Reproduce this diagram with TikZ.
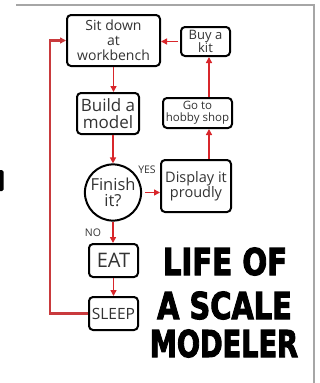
\documentclass[tikz,border=0pt]{standalone}
\usepackage{fontspec}
\setmainfont{Open Sans}
\newfontfamily\titlefont{DejaVu Sans}[BoldFeatures={FakeBold=3}]
\usetikzlibrary{arrows.meta}

\definecolor{flowred}{HTML}{D8262B}
\definecolor{looped}{HTML}{C93A3D}
\definecolor{inktext}{HTML}{333333}

\tikzset{
    stepbox/.style={draw=black, line width=2pt, rounded corners=4pt, fill=white,
        align=center, inner sep=1pt, text=inktext},
    flow/.style={draw=flowred, line width=1.8pt, -{Triangle[length=6pt,width=6pt]}},
    answer/.style={text=inktext, font=\fontsize{10.5}{11}\selectfont},
    title/.style={anchor=base, font=\titlefont\bfseries\fontsize{37}{37}\selectfont}
}

\begin{document}
\begin{tikzpicture}[x=1pt, y=-1pt]

    % Frame of the page
    \useasboundingbox (0,0) rectangle (320,383);
    \draw[gray!70, line width=1.5pt] (16,5) -- (314,5) -- (314,383);

    % Bit of a letter from the neighbouring page
    \fill[black, rounded corners=1.5pt] (-3,170) rectangle (3.5,191);

    % The steps of the chart
    \node[stepbox, minimum width=93pt, minimum height=51pt,
          font=\fontsize{14}{15}\selectfont] (sit) at (113.5,40.5) {Sit down\\at\\workbench};
    \node[stepbox, minimum width=49pt, minimum height=29pt,
          font=\fontsize{13}{13}\selectfont] (kit) at (205.5,41.5) {Buy a\\kit};
    \node[stepbox, minimum width=62pt, minimum height=41pt,
          font=\fontsize{17}{17.5}\selectfont] (build) at (108,113.5) {Build a\\model};
    \node[stepbox, minimum width=69pt, minimum height=30pt,
          font=\fontsize{11.5}{12}\selectfont] (hobby) at (197.5,113) {Go to\\hobby shop};
    \node[stepbox, circle, minimum size=56pt,
          font=\fontsize{16.5}{16}\selectfont] (finish) at (113,192.5) {Finish\\it?};
    \node[stepbox, minimum width=70pt, minimum height=52pt,
          font=\fontsize{14.5}{15}\selectfont] (display) at (196,186) {Display it\\proudly};
    \node[stepbox, minimum width=49pt, minimum height=33pt,
          font=\fontsize{20}{20}\selectfont] (eat) at (113.5,260.5) {EAT};
    \node[stepbox, minimum width=49pt, minimum height=33pt,
          font=\fontsize{15.5}{16}\selectfont] (sleep) at (113.5,313.5) {SLEEP};

    % Answers of the question
    \node[answer] (yes) at (147,170) {YES};
    \node[answer] (no) at (93,232.5) {NO};

    % Column of the arrows on the right
    \coordinate (upx) at (209,0);

    % Arrows between the steps
    \draw[flow] (sit) -- (sit |- build.north);
    \draw[flow] (build.south -| finish) -- (finish.north);
    \draw[flow, shorten <=3pt] (finish.east) -- (display.west |- finish.east);
    \draw[flow] (display.north -| upx) -- (hobby.south -| upx);
    \draw[flow] (hobby.north -| upx) -- (kit.south -| upx);
    \draw[flow, shorten <=2pt] (kit.west) -- (sit.east |- kit.west);
    \draw[flow] (finish.south) -- (finish.south |- eat.north);
    \draw[flow] (eat.south) -- (sleep.north);

    % Back to the workbench
    \coordinate (back) at (50,0);
    \draw[draw=looped, line width=2.5pt, -{Triangle[length=6pt,width=6pt]}]
        (sleep.west) -| (back |- sit.west) -- (sit.west);

    % Title
    \node[title] (life) at (225,275) {\scalebox{0.79}[1]{LIFE OF}};
    \node[title] (scale) at (224.5,319) {\scalebox{0.78}[1]{A SCALE}};
    \node[title] (modeler) at (224,357) {\scalebox{0.735}[1]{MODELER}};

\end{tikzpicture}
\end{document}
